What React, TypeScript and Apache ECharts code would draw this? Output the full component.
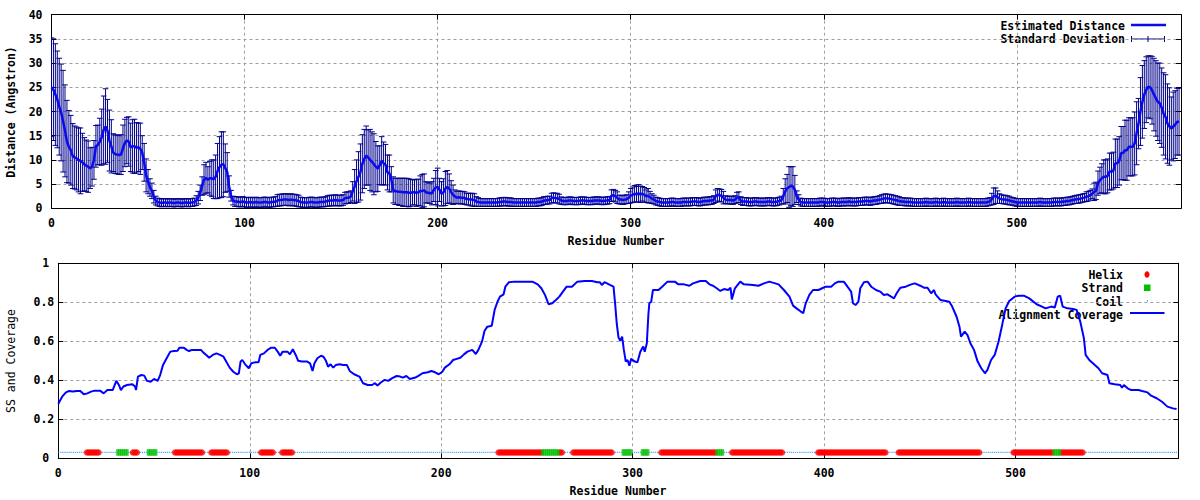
import React, { useEffect, useRef } from "react";
import * as echarts from "echarts";

// ---------------- data ----------------
const RESIDUE_MAX = 585;
const SS_LEVEL = 0.03;

// Estimated distance (Angstrom) per residue 0..584
const distanceMean: number[] = [
  25, 24.5, 23.5, 22.5, 21, 19.8, 18, 16, 13.8, 12.7,
  12, 10.8, 10.5, 10.3, 10, 9.8, 9.5, 9.1, 8.8, 8.6,
  8.3, 8.6, 10, 12.8, 13.1, 13.8, 14.7, 16.2, 16.9, 16,
  14, 12.8, 11.5, 11.2, 11.1, 11, 11.1, 12.4, 13.5, 14,
  13.8, 12.6, 12.8, 12.8, 12.5, 12.6, 12.3, 11.5, 9.5, 6.8,
  5.5, 4.3, 3.6, 2.4, 1.6, 1.3, 1.2, 1.1, 1.2, 1.2,
  1.1, 1.2, 1.2, 1.1, 1.1, 1.2, 1.2, 1.1, 1.1, 1.2,
  1.2, 1.1, 1.2, 1.2, 1.3, 1.6, 2.2, 3.2, 4.6, 5.9,
  6.3, 5.9, 6.2, 6.2, 6, 6.5, 7.7, 8.5, 9, 9.1,
  8.3, 7.5, 4.5, 2.6, 1.6, 1.4, 1.4, 1.3, 1.3, 1.4,
  1.3, 1.2, 1.2, 1.3, 1.2, 1.2, 1.3, 1.2, 1.2, 1.2,
  1.3, 1.3, 1.2, 1.2, 1.3, 1.3, 1.4, 1.6, 1.7, 1.7,
  1.8, 1.8, 1.8, 1.7, 1.8, 1.7, 1.7, 1.6, 1.5, 1.3,
  1.2, 1.2, 1.2, 1.2, 1.3, 1.3, 1.2, 1.2, 1.2, 1.3,
  1.3, 1.3, 1.4, 1.5, 1.6, 1.6, 1.6, 1.7, 1.6, 1.6,
  1.6, 1.7, 2.1, 2.2, 2.2, 2.4, 3.5, 4.5, 5.6, 6.5,
  7.5, 9.2, 10.2, 10.9, 10.5, 10, 9.6, 9.1, 8.6, 8.2,
  8.9, 9.8, 9.3, 9, 7.4, 7.2, 6, 3.8, 3.5, 3.5,
  3.4, 3.4, 3.3, 3.3, 3.3, 3.2, 3.2, 3.3, 3.3, 3.2,
  3.3, 3.6, 3.6, 3.7, 3.3, 3.2, 3.1, 3.1, 3.8, 4.3,
  4.4, 3.8, 3, 3.3, 4.1, 4.4, 4.1, 3.3, 2.8, 2.4,
  2.2, 2.3, 2.2, 2.2, 2.1, 1.9, 1.9, 1.8, 1.8, 1.7,
  1.4, 1.3, 1.2, 1.2, 1.2, 1.2, 1.2, 1.2, 1.2, 1.2,
  1.2, 1.2, 1.3, 1.3, 1.4, 1.4, 1.3, 1.3, 1.3, 1.2,
  1.2, 1.2, 1.2, 1.2, 1.2, 1.2, 1.2, 1.2, 1.2, 1.2,
  1.2, 1.2, 1.3, 1.3, 1.4, 1.6, 1.6, 1.7, 1.7, 2.1,
  2.2, 2.1, 2.1, 1.9, 1.6, 1.5, 1.5, 1.5, 1.6, 1.6,
  1.5, 1.5, 1.5, 1.5, 1.6, 1.6, 1.6, 1.5, 1.5, 1.5,
  1.5, 1.6, 1.6, 1.6, 1.6, 1.5, 1.5, 1.6, 1.6, 1.7,
  2.6, 2.7, 2.5, 2.2, 1.8, 1.8, 1.7, 1.8, 1.9, 2.2,
  2.6, 2.8, 3.0, 2.9, 3.1, 2.9, 3.0, 2.8, 2.5, 2.6,
  2.3, 2.0, 1.8, 1.5, 1.4, 1.3, 1.2, 1.2, 1.2, 1.2,
  1.2, 1.3, 1.3, 1.2, 1.2, 1.2, 1.2, 1.3, 1.3, 1.3,
  1.3, 1.3, 1.4, 1.4, 1.4, 1.3, 1.3, 1.4, 1.5, 1.5,
  1.5, 1.6, 1.6, 1.8, 2.5, 2.8, 2.7, 2.6, 2.2, 1.8,
  1.7, 1.7, 1.7, 1.6, 1.8, 2.2, 2.3, 1.6, 1.4, 1.4,
  1.4, 1.3, 1.3, 1.3, 1.4, 1.4, 1.3, 1.3, 1.3, 1.3,
  1.3, 1.4, 1.4, 1.3, 1.3, 1.3, 1.4, 1.5, 1.7, 2.5,
  3.5, 4.1, 4.4, 4.6, 4.5, 3.8, 2.4, 1.8, 1.3, 1.2,
  1.2, 1.2, 1.2, 1.2, 1.2, 1.2, 1.2, 1.2, 1.3, 1.3,
  1.3, 1.2, 1.2, 1.2, 1.3, 1.3, 1.3, 1.2, 1.2, 1.3,
  1.3, 1.3, 1.3, 1.4, 1.3, 1.3, 1.3, 1.3, 1.4, 1.4,
  1.4, 1.5, 1.5, 1.5, 1.4, 1.5, 1.6, 1.6, 1.7, 1.8,
  1.9, 2.0, 2.1, 2.0, 2.0, 1.9, 1.8, 1.7, 1.6, 1.5,
  1.4, 1.4, 1.3, 1.3, 1.3, 1.3, 1.2, 1.2, 1.2, 1.2,
  1.2, 1.2, 1.2, 1.3, 1.2, 1.2, 1.2, 1.2, 1.3, 1.2,
  1.2, 1.2, 1.3, 1.2, 1.2, 1.2, 1.2, 1.2, 1.2, 1.3,
  1.2, 1.2, 1.2, 1.2, 1.2, 1.3, 1.2, 1.2, 1.2, 1.2,
  1.2, 1.2, 1.2, 1.2, 1.2, 1.3, 1.4, 1.9, 2.5, 2.6,
  2.3, 2.0, 1.9, 1.8, 1.8, 1.7, 1.6, 1.5, 1.4, 1.3,
  1.2, 1.2, 1.2, 1.2, 1.2, 1.2, 1.2, 1.2, 1.2, 1.2,
  1.2, 1.2, 1.3, 1.2, 1.2, 1.2, 1.2, 1.2, 1.2, 1.3,
  1.3, 1.3, 1.3, 1.3, 1.4, 1.4, 1.5, 1.5, 1.6, 1.7,
  1.8, 1.85, 1.9, 2.0, 2.1, 2.2, 2.4, 2.5, 2.7, 3.0,
  3.4, 3.6, 5.2, 5.8, 6.2, 6.5, 6.5, 6.7, 7.6, 7.6,
  7.8, 9.3, 9.3, 9.8, 11.4, 11.4, 12, 12, 12.7, 12.7,
  12.7, 13.4, 15.5, 17.5, 20, 22, 23.5, 24.5, 25.1, 25,
  24.4, 23.5, 22.7, 22, 21.7, 20.8, 19.5, 18.9, 17.5, 16.9,
  16.5, 16.9, 17.3, 17.9, 17.9,
];

// Standard deviation per residue 0..584
const distanceSD: number[] = [
  10.2, 10.5, 10.5, 10, 10, 10, 10.5, 9.5, 8.5, 7.5,
  7.2, 6.7, 6.5, 6.5, 6.6, 6.8, 6, 5.5, 5.3, 5.3,
  4.2, 4, 4, 4.3, 4.1, 4.8, 5.8, 7, 7.8, 6.5,
  6.3, 5.5, 3.9, 4, 4, 4, 4.1, 4.8, 4.9, 4.8,
  5.1, 5, 5.5, 5.6, 5.2, 5, 5.3, 3.5, 3.9, 3.4,
  2.5, 1.8, 1.6, 1.3, 0.9, 0.8, 0.8, 0.8, 0.8, 0.8,
  0.8, 0.8, 0.8, 0.8, 0.8, 0.8, 0.8, 0.8, 0.8, 0.8,
  0.8, 0.8, 0.8, 0.8, 0.8, 1, 1.3, 1.6, 1.9, 3.1,
  3.2, 2.7, 3.5, 3.8, 4, 4.5, 5.7, 6.3, 6.8, 6.7,
  5, 4, 2.2, 1.1, 0.9, 1, 1, 1, 1, 1,
  1, 1, 1, 1, 1, 1, 1, 1, 1, 1,
  1, 1, 1, 1, 1, 1, 1, 1.2, 1.2, 1.2,
  1.2, 1.2, 1.2, 1.2, 1.2, 1.2, 1.2, 1.2, 1.2, 1,
  1, 1, 1, 1, 1, 1, 1, 1, 1, 1,
  1, 1, 1, 1.1, 1.1, 1.1, 1.1, 1.1, 1.1, 1.1,
  1.1, 1.1, 1.2, 1.2, 1.2, 1.2, 2, 3.5, 4.4, 5.2,
  5.8, 6, 6.1, 6.1, 5.7, 6.3, 6.2, 6.3, 5.2, 4.7,
  4, 5, 4.4, 4.2, 3.6, 3.8, 2.6, 2.7, 2.7, 2.7,
  2.8, 2.8, 2.9, 2.9, 2.9, 2.9, 2.8, 2.6, 2.6, 2.8,
  2.7, 3.1, 3.4, 3.4, 2.2, 2.1, 2.1, 2.4, 2.4, 3.5,
  3.9, 2.4, 2.5, 2.8, 3.5, 3.4, 3, 2.4, 2, 1.4,
  1.3, 1.3, 1.3, 1.3, 1.3, 1.2, 1.2, 1.3, 1.3, 1.3,
  1, 0.9, 0.8, 0.8, 0.8, 0.8, 0.8, 0.8, 0.8, 0.8,
  0.8, 0.8, 0.85, 0.85, 0.85, 0.85, 0.85, 0.85, 0.85, 0.8,
  0.8, 0.8, 0.8, 0.8, 0.8, 0.8, 0.8, 0.8, 0.8, 0.8,
  0.8, 0.8, 0.8, 0.8, 0.8, 0.8, 0.8, 0.8, 0.8, 1,
  1, 1, 1, 1, 0.75, 0.75, 0.75, 0.75, 0.75, 0.75,
  0.75, 0.75, 0.75, 0.75, 0.75, 0.75, 0.75, 0.75, 0.75, 0.75,
  0.75, 0.75, 0.75, 0.75, 0.75, 0.75, 0.75, 0.75, 0.75, 0.75,
  1.2, 1.2, 1.2, 1.2, 0.9, 0.9, 0.9, 0.9, 0.9, 1.2,
  1.5, 1.6, 1.7, 1.6, 1.8, 1.7, 1.5, 1.5, 1.3, 1.5,
  1.2, 1, 0.9, 0.8, 0.8, 0.8, 0.8, 0.8, 0.8, 0.8,
  0.8, 0.8, 0.8, 0.8, 0.8, 0.8, 0.8, 0.8, 0.8, 0.8,
  0.8, 0.8, 0.8, 0.8, 0.8, 0.8, 0.8, 0.8, 0.8, 0.8,
  0.8, 0.8, 0.8, 0.8, 1.3, 1.3, 1.3, 1.3, 1.3, 0.8,
  0.8, 0.8, 0.8, 0.8, 0.8, 1.1, 1.1, 0.8, 0.8, 0.8,
  0.8, 0.8, 0.8, 0.8, 0.8, 0.8, 0.8, 0.8, 0.8, 0.8,
  0.8, 0.8, 0.8, 0.8, 0.8, 0.8, 0.8, 0.8, 0.8, 1.6,
  2.6, 2.9, 4.2, 4, 4.1, 3, 1.2, 1, 0.8, 0.8,
  0.8, 0.8, 0.8, 0.8, 0.8, 0.8, 0.8, 0.8, 0.8, 0.8,
  0.8, 0.8, 0.8, 0.8, 0.8, 0.8, 0.8, 0.8, 0.8, 0.8,
  0.8, 0.8, 0.8, 0.8, 0.8, 0.8, 0.8, 0.8, 0.8, 0.8,
  0.8, 0.8, 0.8, 0.8, 0.8, 0.8, 0.8, 0.8, 0.8, 0.8,
  0.9, 0.9, 0.9, 0.9, 0.9, 0.9, 0.9, 0.9, 0.9, 0.9,
  0.8, 0.8, 0.8, 0.8, 0.8, 0.8, 0.8, 0.8, 0.8, 0.8,
  0.8, 0.8, 0.8, 0.8, 0.8, 0.8, 0.8, 0.8, 0.8, 0.8,
  0.8, 0.8, 0.8, 0.8, 0.8, 0.8, 0.8, 0.8, 0.8, 0.8,
  0.8, 0.8, 0.8, 0.8, 0.8, 0.8, 0.8, 0.8, 0.8, 0.8,
  0.8, 0.8, 0.8, 0.8, 0.8, 0.8, 0.8, 1.2, 1.7, 1.6,
  1.3, 1, 0.9, 0.9, 0.9, 0.9, 0.9, 0.8, 0.8, 0.8,
  0.8, 0.8, 0.8, 0.8, 0.8, 0.8, 0.8, 0.8, 0.8, 0.8,
  0.8, 0.8, 0.8, 0.8, 0.8, 0.8, 0.8, 0.8, 0.8, 0.8,
  0.8, 0.8, 0.8, 0.8, 0.8, 0.8, 0.8, 0.8, 0.8, 0.8,
  0.8, 0.85, 0.85, 0.85, 0.85, 0.85, 1, 1, 1, 1,
  1.8, 1.8, 2.5, 2.7, 3, 3.5, 3.5, 3.5, 3.8, 3.8,
  3.8, 5, 5, 5, 5.5, 5.5, 6.2, 6.2, 6, 6,
  6, 6.5, 6.5, 5.2, 7, 7.5, 7, 6.8, 6.4, 6.5,
  7, 7.5, 7.8, 8, 8.3, 8.2, 8.5, 8.7, 8.2, 8,
  6.5, 7.1, 7, 6.9, 6.9,
];

// Alignment coverage: [residue, fraction]
const coverage: [number, number][] = [
  [0, 0.28], [2, 0.316], [4, 0.338], [5.4, 0.345], [7.7, 0.342], [9.6, 0.345], [11.5, 0.345],
  [13.3, 0.328], [15.2, 0.333], [17.1, 0.342], [19, 0.347], [21.8, 0.347], [23.7, 0.333],
  [25.6, 0.35], [28.4, 0.35], [30.3, 0.397], [31.8, 0.373], [32.7, 0.35], [34, 0.368],
  [35.9, 0.376], [38.7, 0.38], [40.1, 0.368], [40.6, 0.35], [41.6, 0.419], [43.4, 0.427],
  [44.9, 0.424], [46.3, 0.397], [48.2, 0.393], [50, 0.407], [51.9, 0.397], [53.2, 0.427],
  [54.7, 0.479], [56.6, 0.513], [58.5, 0.547], [60.4, 0.55], [62.3, 0.552], [63.2, 0.567],
  [65.6, 0.567], [67, 0.556], [68.3, 0.55], [69.8, 0.556], [72.6, 0.556], [74.5, 0.556],
  [75.8, 0.542], [77.3, 0.53], [78.8, 0.516], [80.7, 0.53], [82.6, 0.538], [84.5, 0.53],
  [86.3, 0.521], [87.7, 0.496], [89.5, 0.465], [91.4, 0.444], [93.3, 0.431], [94.3, 0.436],
  [95.2, 0.496], [96.1, 0.504], [97.6, 0.482], [99.5, 0.462], [100.8, 0.487], [102.7, 0.492],
  [104.6, 0.492], [105.5, 0.53], [107.4, 0.538], [109.7, 0.559], [111.2, 0.567], [113.1, 0.567],
  [114.6, 0.547], [115.9, 0.526], [117.2, 0.547], [119.7, 0.547], [121, 0.533], [122.5, 0.559],
  [124, 0.53], [125.3, 0.5], [127.2, 0.496], [130, 0.496], [131.5, 0.487], [132.8, 0.448],
  [133.8, 0.487], [135.3, 0.513], [137.2, 0.526], [138.5, 0.521], [139.8, 0.5], [140.9, 0.47],
  [142.2, 0.482], [143.6, 0.465], [145, 0.479], [146.9, 0.482], [148.8, 0.479], [150.7, 0.479],
  [152.2, 0.448], [154.5, 0.431], [157.3, 0.419], [159.2, 0.385], [161.6, 0.376], [163.9, 0.376],
  [165.4, 0.385], [166.7, 0.373], [168.6, 0.39], [170.5, 0.402], [172.3, 0.397], [174.2, 0.41],
  [176.7, 0.422], [178.6, 0.419], [179.9, 0.414], [181.8, 0.422], [183.6, 0.407], [186.5, 0.414],
  [188.3, 0.424], [190.2, 0.436], [193, 0.441], [194.9, 0.448], [196.8, 0.441], [198.7, 0.431],
  [200.6, 0.444], [201.9, 0.465], [204.3, 0.482], [206.2, 0.504], [208.1, 0.51], [210, 0.516],
  [211.9, 0.533], [213.7, 0.547], [216.2, 0.556], [218.1, 0.535], [219.4, 0.556], [221.3, 0.598],
  [222.6, 0.653], [224.1, 0.675], [226.4, 0.68], [227.9, 0.761], [229.4, 0.803], [230.7, 0.829],
  [232.6, 0.841], [233.5, 0.88], [235.4, 0.903], [238.2, 0.906], [242.9, 0.906], [247.6, 0.906],
  [250.4, 0.892], [252.3, 0.872], [254.2, 0.838], [256.1, 0.79], [258, 0.795], [259.9, 0.812],
  [261.7, 0.829], [263.6, 0.855], [265.5, 0.88], [268.3, 0.88], [271.1, 0.906], [274.9, 0.909],
  [278.7, 0.909], [281.5, 0.903], [282.8, 0.903], [283.9, 0.889], [285.3, 0.903], [288.1, 0.889],
  [290, 0.88], [290.9, 0.786], [291.7, 0.69], [292.6, 0.62], [293.5, 0.602], [294.5, 0.624],
  [295.4, 0.556], [296.4, 0.496], [297.3, 0.504], [298.3, 0.475], [299.2, 0.51], [301.1, 0.496],
  [302.5, 0.492], [304, 0.547], [305.5, 0.573], [306.3, 0.547], [307.4, 0.59], [308.2, 0.735],
  [308.7, 0.795], [309.7, 0.803], [310.6, 0.863], [313.5, 0.863], [315.4, 0.88], [318.2, 0.906],
  [322, 0.906], [323.9, 0.892], [326.8, 0.892], [329.6, 0.885], [331.5, 0.897], [335.3, 0.909],
  [338.2, 0.909], [340.1, 0.892], [342, 0.885], [343.9, 0.872], [345.8, 0.858], [347.7, 0.868],
  [349.9, 0.863], [351.1, 0.875], [351.8, 0.815], [353.4, 0.872], [356.2, 0.906], [358.1, 0.892],
  [362.9, 0.889], [365.7, 0.885], [368.6, 0.897], [371.4, 0.906], [376.2, 0.892], [379, 0.863],
  [381.9, 0.829], [383.8, 0.783], [385.6, 0.769], [387.5, 0.755], [389.1, 0.744], [390.4, 0.795],
  [392.3, 0.838], [394.2, 0.863], [397, 0.863], [399, 0.872], [400.8, 0.88], [403.7, 0.88],
  [405.6, 0.897], [407.5, 0.906], [410.3, 0.906], [412.2, 0.88], [414.1, 0.855], [415.1, 0.795],
  [416.4, 0.786], [417.9, 0.803], [418.9, 0.872], [420.8, 0.903], [422.7, 0.906], [424.6, 0.88],
  [427.1, 0.863], [429.3, 0.855], [431.2, 0.838], [433.1, 0.841], [435, 0.829], [436.5, 0.82],
  [437.9, 0.846], [439.8, 0.875], [442.6, 0.88], [445.5, 0.892], [447.4, 0.897], [450.2, 0.885],
  [452.1, 0.875], [454, 0.875], [455.9, 0.846], [457.4, 0.863], [458.2, 0.841], [460.7, 0.812],
  [463.5, 0.807], [465.4, 0.803], [466.9, 0.778], [469.2, 0.726], [470.7, 0.675], [471.5, 0.624],
  [473.4, 0.65], [474.9, 0.632], [476.4, 0.59], [478.3, 0.556], [480.2, 0.496], [482.1, 0.462],
  [484, 0.436], [485.3, 0.453], [487.2, 0.504], [489.1, 0.53], [491.1, 0.598], [493, 0.684],
  [494.8, 0.769], [496.7, 0.807], [499.6, 0.829], [501.5, 0.834], [504.3, 0.834], [507.2, 0.82],
  [511, 0.79], [513.8, 0.778], [515.7, 0.769], [518.6, 0.778], [520.5, 0.773], [522, 0.829],
  [523.3, 0.834], [524.6, 0.778], [527.1, 0.769], [530, 0.766], [531.9, 0.761], [533.8, 0.701],
  [535.7, 0.615], [536.6, 0.53], [538.5, 0.504], [541.4, 0.479], [543.3, 0.462], [545.2, 0.436],
  [548, 0.427], [549, 0.385], [551.8, 0.38], [554.7, 0.376], [555.6, 0.362], [556.6, 0.376],
  [558.5, 0.359], [560.4, 0.35], [564.2, 0.35], [566.1, 0.345], [568.9, 0.338], [570.8, 0.321],
  [573.7, 0.308], [576.5, 0.29], [579.3, 0.265], [582.2, 0.256], [584.1, 0.253],
];

// Secondary structure segments [first residue, last residue]
const helixRanges: [number, number][] = [
  [15, 21], [39, 41], [61, 75], [80, 88], [106, 112], [117, 122], [230, 252], [262, 263],
  [269, 289], [315, 343], [352, 378], [397, 432], [439, 481], [499, 519], [524, 535],
];
const strandRanges: [number, number][] = [
  [31, 36], [47, 51], [253, 261], [295, 299], [305, 308], [344, 347], [520, 523],
];

// ---------------- styling ----------------
const MONO = '"DejaVu Sans Mono", "Liberation Mono", monospace';
const FONT_SIZE = 11.5;
const LINE_BLUE = "#0a0af0";
const BAR_NAVY = "#00008b";
const GRID_GRAY = "#a0a0a0";

function expandRanges(ranges: [number, number][]): number[] {
  const out: number[] = [];
  ranges.forEach(([a, b]) => {
    for (let r = a; r <= b; r++) out.push(r);
  });
  return out;
}

function buildOption(): any {
  const helixRes = expandRanges(helixRanges);
  const strandRes = expandRanges(strandRanges);
  const used = new Set<number>([...helixRes, ...strandRes]);
  const coilRes: number[] = [];
  for (let r = 0; r < distanceMean.length; r++) if (!used.has(r)) coilRes.push(r);

  const meanData = distanceMean.map((m, i) => [i, m]);
  const errData = distanceMean.map((m, i) => [i, m - distanceSD[i], m + distanceSD[i]]);

  const labelStyle = {
    fontFamily: MONO,
    fontWeight: "bold" as const,
    fontSize: FONT_SIZE,
    color: "#000",
  };
  const splitLine = {
    show: true,
    showMinLine: false,
    showMaxLine: false,
    lineStyle: { color: GRID_GRAY, type: [3, 3], width: 1 },
  };
  const tick = { show: true, inside: true, length: 5, lineStyle: { color: "#000", width: 1 } };
  const axisLine = { show: true, onZero: false, lineStyle: { color: "#000", width: 1 } };

  const xFormatter = (v: number) => (v % 100 === 0 ? String(v) : "");

  const mkX = (gridIndex: number) => [
    {
      type: "value", gridIndex, min: 0, max: RESIDUE_MAX, interval: 100, position: "bottom",
      axisLine, axisTick: tick, splitLine,
      axisLabel: { ...labelStyle, margin: 9, formatter: xFormatter, showMaxLabel: false },
    },
    {
      type: "value", gridIndex, min: 0, max: RESIDUE_MAX, interval: 100, position: "top",
      axisLine, axisTick: tick, splitLine: { show: false }, axisLabel: { show: false },
    },
  ];

  const xAxis = [...mkX(0), ...mkX(1)];
  const yAxis = [
    {
      type: "value", gridIndex: 0, min: 0, max: 40, interval: 5, position: "left",
      axisLine, axisTick: tick, splitLine,
      axisLabel: { ...labelStyle, margin: 9 },
    },
    {
      type: "value", gridIndex: 0, min: 0, max: 40, interval: 5, position: "right",
      axisLine, axisTick: tick, splitLine: { show: false }, axisLabel: { show: false },
    },
    {
      type: "value", gridIndex: 1, min: 0, max: 1, interval: 0.2, position: "left",
      axisLine, axisTick: tick, splitLine,
      axisLabel: {
        ...labelStyle,
        margin: 4,
        formatter: (v: number) => {
          const s = String(Math.round(v * 10) / 10);
          return s.length === 1 ? "{i|" + s + "}" : s;
        },
        rich: { i: { ...labelStyle, padding: [0, 5, 0, 0] } },
      },
    },
    {
      type: "value", gridIndex: 1, min: 0, max: 1, interval: 0.2, position: "right",
      axisLine, axisTick: tick, splitLine: { show: false }, axisLabel: { show: false },
    },
  ];

  const txt = (text: string, x: number, y: number, align: string, extra: any = {}) => ({
    type: "text",
    x,
    y,
    silent: true,
    ...extra,
    style: {
      text,
      fill: "#000",
      fontFamily: MONO,
      fontWeight: extra.weight || "bold",
      fontSize: FONT_SIZE,
      align,
      verticalAlign: "middle",
    },
  });

  const graphic: any[] = [
    // axis titles
    txt("Residue Number", 616, 241, "center"),
    txt("Residue Number", 618, 491, "center"),
    txt("Distance (Angstron)", 11, 112, "center", { rotation: Math.PI / 2 }),
    txt("SS and Coverage", 11, 361, "center", { rotation: Math.PI / 2, weight: "normal" }),
    // top legend
    txt("Estimated Distance", 1125, 26, "right"),
    { type: "line", silent: true, shape: { x1: 1131, y1: 25, x2: 1166, y2: 25 }, style: { stroke: LINE_BLUE, lineWidth: 2.5 } },
    txt("Standard Deviation", 1125, 39, "right"),
    { type: "line", silent: true, shape: { x1: 1131, y1: 39, x2: 1165, y2: 39 }, style: { stroke: BAR_NAVY, lineWidth: 1 } },
    { type: "line", silent: true, shape: { x1: 1131.5, y1: 36, x2: 1131.5, y2: 42 }, style: { stroke: BAR_NAVY, lineWidth: 1 } },
    { type: "line", silent: true, shape: { x1: 1148, y1: 36, x2: 1148, y2: 42 }, style: { stroke: BAR_NAVY, lineWidth: 1 } },
    { type: "line", silent: true, shape: { x1: 1164.5, y1: 36, x2: 1164.5, y2: 42 }, style: { stroke: BAR_NAVY, lineWidth: 1 } },
    // bottom legend
    txt("Helix", 1123, 274.5, "right"),
    { type: "ellipse", silent: true, shape: { cx: 1147, cy: 274.5, rx: 2.5, ry: 3.3 }, style: { fill: "#ff0000" } },
    txt("Strand", 1123, 288, "right"),
    { type: "rect", silent: true, shape: { x: 1144, y: 284.5, width: 6.5, height: 6.5 }, style: { fill: "#00c000" } },
    txt("Coil", 1123, 301.5, "right"),
    { type: "rect", silent: true, shape: { x: 1146.8, y: 300.3, width: 1.2, height: 1.2 }, style: { fill: "#1e90ff" } },
    txt("Alignment Coverage", 1123, 314.8, "right"),
    { type: "line", silent: true, shape: { x1: 1130, y1: 313, x2: 1164.5, y2: 313 }, style: { stroke: "#0000ff", lineWidth: 2 } },
  ];

  return {
    animation: false,
    backgroundColor: "#fff",
    grid: [
      { left: 51.5, top: 14.7, width: 1129.5, height: 193.6, containLabel: false },
      { left: 58.3, top: 263.3, width: 1120, height: 195, containLabel: false },
    ],
    xAxis,
    yAxis,
    graphic,
    series: [
      {
        name: "Standard Deviation",
        type: "custom",
        xAxisIndex: 0,
        yAxisIndex: 0,
        clip: true,
        data: errData,
        encode: { x: 0, y: [1, 2] },
        renderItem: (params: any, api: any) => {
          const x = api.value(0);
          const lo = api.coord([x, api.value(1)]);
          const hi = api.coord([x, api.value(2)]);
          const hw = 2.8;
          const st = { stroke: BAR_NAVY, lineWidth: 1 };
          return {
            type: "group",
            children: [
              { type: "line", shape: { x1: hi[0], y1: hi[1], x2: lo[0], y2: lo[1] }, style: st },
              { type: "line", shape: { x1: hi[0] - hw, y1: hi[1], x2: hi[0] + hw, y2: hi[1] }, style: st },
              { type: "line", shape: { x1: lo[0] - hw, y1: lo[1], x2: lo[0] + hw, y2: lo[1] }, style: st },
            ],
          };
        },
        z: 2,
      },
      {
        name: "Estimated Distance",
        type: "line",
        xAxisIndex: 0,
        yAxisIndex: 0,
        data: meanData,
        showSymbol: false,
        lineStyle: { color: LINE_BLUE, width: 2.5 },
        z: 3,
      },
      {
        name: "Coil",
        type: "scatter",
        xAxisIndex: 2,
        yAxisIndex: 2,
        data: coilRes.map((r) => [r, SS_LEVEL]),
        symbol: "rect",
        symbolSize: [1.1, 1.3],
        itemStyle: { color: "#1e90ff" },
        z: 2,
      },
      {
        name: "Helix",
        type: "scatter",
        xAxisIndex: 2,
        yAxisIndex: 2,
        data: helixRes.map((r) => [r, SS_LEVEL]),
        symbol: "circle",
        symbolSize: 6.5,
        itemStyle: { color: "#ff0000" },
        z: 3,
      },
      {
        name: "Strand",
        type: "scatter",
        xAxisIndex: 2,
        yAxisIndex: 2,
        data: strandRes.map((r) => [r, SS_LEVEL]),
        symbol: "rect",
        symbolSize: [3, 6.5],
        itemStyle: { color: "#00c000" },
        z: 4,
      },
      {
        name: "Alignment Coverage",
        type: "line",
        xAxisIndex: 2,
        yAxisIndex: 2,
        data: coverage,
        showSymbol: false,
        lineStyle: { color: "#0000ff", width: 2 },
        z: 3,
      },
    ],
  };
}

export default function App() {
  const ref = useRef<HTMLDivElement>(null);
  useEffect(() => {
    if (!ref.current) return;
    const chart = echarts.init(ref.current, undefined, { renderer: "svg" });
    chart.setOption(buildOption());
    return () => chart.dispose();
  }, []);
  return (
    <div
      ref={ref}
      style={{ position: "absolute", left: 0, top: 0, width: 1200, height: 500, background: "#fff" }}
    />
  );
}
